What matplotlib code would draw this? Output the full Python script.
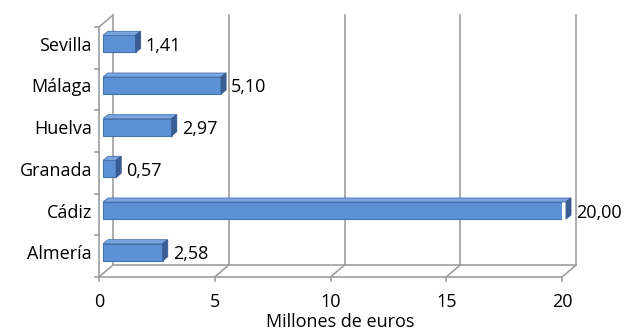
import matplotlib
matplotlib.use('Agg')
import matplotlib.pyplot as plt
from matplotlib.patches import Polygon

# data
provincias = ['Almería', 'Cádiz', 'Granada', 'Huelva', 'Málaga', 'Sevilla']
millones = [2.58, 20.00, 0.57, 2.97, 5.10, 1.41]
xticks = [0, 5, 10, 15, 20]

plt.rcParams['font.family'] = ['Open Sans', 'DejaVu Sans']
fs = 13

W, H = 626, 331
fig = plt.figure(figsize=(W / 100, H / 100), dpi=100)

# front plane of the 3d box, in pixels
x0, x1, ytop, ybot = 99, 562, 27, 277
ax = fig.add_axes([x0 / W, (H - ybot) / H, (x1 - x0) / W, (ybot - ytop) / H])
n = len(provincias)
ylo, yhi = -0.5, n - 0.5
ax.set_xlim(0, xticks[-1])
ax.set_ylim(ylo, yhi)
ax.axis('off')

# pixels -> data units
ux = xticks[-1] / (x1 - x0)
uy = n / (ybot - ytop)
dx, dy = 14, 12  # depth of the box
kw = dict(color='#9e9e9e', lw=1.2, clip_on=False, zorder=1)

# back wall, floor and left wall
for t in xticks:
    ax.plot([t + dx * ux] * 2, [ylo + dy * uy, yhi + dy * uy], **kw)
    ax.plot([t, t + dx * ux], [ylo, ylo + dy * uy], **kw)
    ax.plot([t, t], [ylo, ylo - 4 * uy], **kw)
    ax.text(t, ylo - 30 * uy, str(t), ha='center', va='baseline', fontsize=fs)
ax.plot([0, xticks[-1]], [ylo] * 2, **kw)
ax.plot([dx * ux, xticks[-1] + dx * ux], [ylo + dy * uy] * 2, **kw)
ax.plot([0, 0], [ylo, yhi], **kw)
ax.plot([0, dx * ux], [yhi, yhi + dy * uy], **kw)
for b in range(n + 1):
    ax.plot([0, -4 * ux], [b - 0.5] * 2, **kw)

# bars (front face + top + end cap)
h = 17 * uy
ox, oy = 4 * ux, 4 * uy
bx, by = 5 * ux, 4 * uy
ys = [i + oy for i in range(n)]
ax.barh(ys, millones, height=h, left=ox, color='#5c91d6',
        edgecolor='#4672ae', lw=0.8, zorder=3)
for y, v, name in zip(ys, millones, provincias):
    top = Polygon([(ox, y + h / 2), (ox + v, y + h / 2),
                   (ox + v + bx, y + h / 2 + by), (ox + bx, y + h / 2 + by)],
                  closed=True, fc='#7aa5df', ec='#4672ae', lw=0.6, zorder=3,
                  clip_on=False)
    side = Polygon([(ox + v, y - h / 2), (ox + v, y + h / 2),
                    (ox + v + bx, y + h / 2 + by), (ox + v + bx, y - h / 2 + by)],
                   closed=True, fc='#3a5e94', ec='#35578a', lw=0.6, zorder=3,
                   clip_on=False)
    ax.add_patch(top)
    ax.add_patch(side)
    ax.text(-7 * ux, y - 7 * uy, name, ha='right', va='baseline', fontsize=fs)
    ax.text(ox + v + bx + 5 * ux, y - 7 * uy, f'{v:.2f}'.replace('.', ','),
            ha='left', va='baseline', fontsize=fs, clip_on=False)

fig.text(340 / W, 1 - 327 / H, 'Millones de euros', ha='center',
         va='baseline', fontsize=fs)

fig.savefig('out.png', dpi=100)
